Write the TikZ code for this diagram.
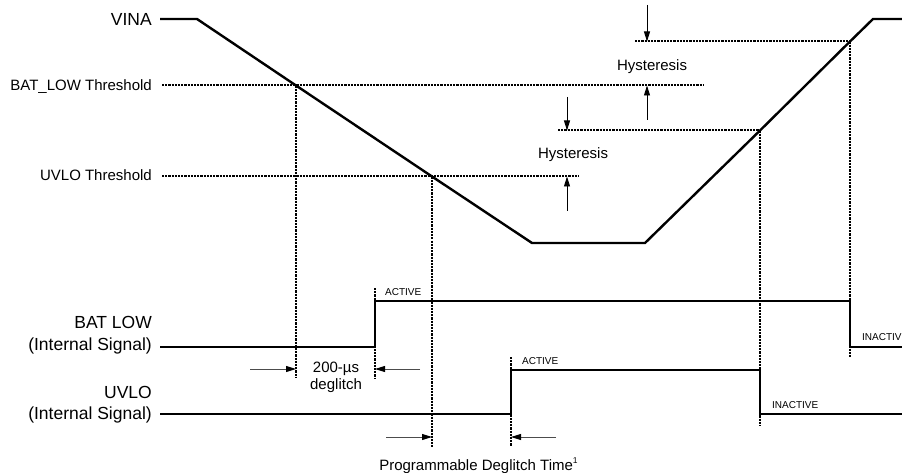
\documentclass[tikz,border=0pt]{standalone}
\usepackage{fontspec}
\setmainfont{Liberation Sans}
\usetikzlibrary{arrows.meta}
\begin{document}
\begin{tikzpicture}[x=1pt,y=-1pt,
  vin/.style={line width=2.4pt, line join=miter},
  sig/.style={line width=2.6pt, line join=miter},
  dots/.style={line width=2pt, dash pattern=on 2.2pt off 1pt},
  dimh/.style={line width=0.9pt, draw=black!70, -{Triangle[length=10pt,width=6pt,color=black]}},
  dimv/.style={line width=0.9pt, -{Triangle[length=10pt,width=6pt]}},
  big/.style={font=\fontsize{17.5}{20}\selectfont, inner sep=0pt},
  mid/.style={font=\fontsize{15}{18}\selectfont, inner sep=0pt},
  tiny/.style={font=\fontsize{10}{12}\selectfont, inner sep=0pt}]
\useasboundingbox (0,0) rectangle (902,473);

% ---- VINA waveform ----
\coordinate (v0) at (160,19);
\coordinate (v1) at (197,19);
\coordinate (tb) at (296,85.5);
\coordinate (tu) at (432,176.5);
\coordinate (b1) at (532,243);
\coordinate (b2) at (645,243);
\coordinate (ru) at (760,130.5);
\coordinate (rb) at (850,41.5);
\coordinate (v2) at (873,19);
\coordinate (v3) at (902,19);
\draw[vin] (v0) -- (v1) -- (tb) -- (tu) -- (b1) -- (b2) -- (ru) -- (rb) -- (v2) -- (v3);

% ---- threshold lines ----
\coordinate (bl0) at (162,85.5);  \coordinate (bl1) at (704,85.5);
\coordinate (ul0) at (162,176.5); \coordinate (ul1) at (579,176.5);
\coordinate (hu0) at (635,41.5);
\coordinate (hl0) at (558,130.5);
\draw[dots] (bl0) -- (bl1);
\draw[dots] (ul0) -- (ul1);
\draw[dots] (hu0) -- (rb);
\draw[dots] (hl0) -- (ru);

% ---- vertical dotted markers ----
\coordinate (tbd) at (296,378);
\coordinate (tud) at (432,447);
\coordinate (rud) at (760,426);
\coordinate (rbd) at (850,357);
\coordinate (e1t) at (375,288); \coordinate (e1b) at (375,378);
\coordinate (e2t) at (511,357); \coordinate (e2b) at (511,446);
\draw[dots] (tb) -- (tbd);
\draw[dots] (tu) -- (tud);
\draw[dots] (ru) -- (rud);
\draw[dots] (rb) -- (rbd);
\draw[dots] (e1t) -- (e1b);
\draw[dots] (e2t) -- (e2b);

% ---- BAT LOW signal ----
\coordinate (s0) at (160,347); \coordinate (s1) at (375,347);
\coordinate (s2) at (375,301); \coordinate (s3) at (850,301);
\coordinate (s4) at (850,347); \coordinate (s5) at (902,347);
\draw[sig] (s0) -- (s1) -- (s2) -- (s3) -- (s4) -- (s5);

% ---- UVLO signal ----
\coordinate (u0) at (160,414); \coordinate (u1) at (511,414);
\coordinate (u2) at (511,370); \coordinate (u3) at (760,370);
\coordinate (u4) at (760,414); \coordinate (u5) at (902,414);
\draw[sig] (u0) -- (u1) -- (u2) -- (u3) -- (u4) -- (u5);

% ---- hysteresis arrows ----
\coordinate (a1s) at (647,5);   \coordinate (a1e) at (647,41.5);
\coordinate (a2s) at (647,120); \coordinate (a2e) at (647,85.5);
\coordinate (a3s) at (567,97);  \coordinate (a3e) at (567,130.5);
\coordinate (a4s) at (567,211); \coordinate (a4e) at (567,176.5);
\draw[dimv] (a1s) -- (a1e);
\draw[dimv] (a2s) -- (a2e);
\draw[dimv] (a3s) -- (a3e);
\draw[dimv] (a4s) -- (a4e);

% ---- deglitch arrows ----
\coordinate (d1s) at (250,369); \coordinate (d1e) at (296,369);
\coordinate (d2s) at (420,369); \coordinate (d2e) at (375,369);
\coordinate (p1s) at (386,437); \coordinate (p1e) at (432,437);
\coordinate (p2s) at (556,437); \coordinate (p2e) at (511,437);
\draw[dimh] (d1s) -- (d1e);
\draw[dimh] (d2s) -- (d2e);
\draw[dimh] (p1s) -- (p1e);
\draw[dimh] (p2s) -- (p2e);

% ---- labels ----
\node[big, anchor=base east] (lvina) at (152,25.5) {VINA};
\node[mid, anchor=base east] (lbat) at (152,91) {BAT\_LOW Threshold};
\node[mid, anchor=base east] (luv) at (152,180.5) {UVLO Threshold};
\node[big, anchor=base east] (lbs1) at (152,328) {BAT LOW};
\node[big, anchor=base east] (lbs2) at (152,350) {(Internal Signal)};
\node[big, anchor=base east] (lus1) at (152,398.5) {UVLO};
\node[big, anchor=base east] (lus2) at (152,419) {(Internal Signal)};
\node[mid, anchor=base] (h1) at (652,71) {Hysteresis};
\node[mid, anchor=base] (h2) at (573,159) {Hysteresis};
\node[mid, anchor=base] (dg1) at (336,372.5) {200-µs};
\node[mid, anchor=base] (dg2) at (336,389.5) {deglitch};
\node[mid, anchor=base] (pd) at (478.5,470) {Programmable Deglitch Time\raisebox{6.5pt}{\fontsize{8.5}{9}\selectfont 1}};
\node[tiny, anchor=base west] (ac1) at (385,295.5) {ACTIVE};
\node[tiny, anchor=base west] (ac2) at (522,364) {ACTIVE};
\node[tiny, anchor=base west] (in1) at (772,408.5) {INACTIVE};
\node[tiny, anchor=base west] (in2) at (862,340) {INACTIV};
\end{tikzpicture}
\end{document}
